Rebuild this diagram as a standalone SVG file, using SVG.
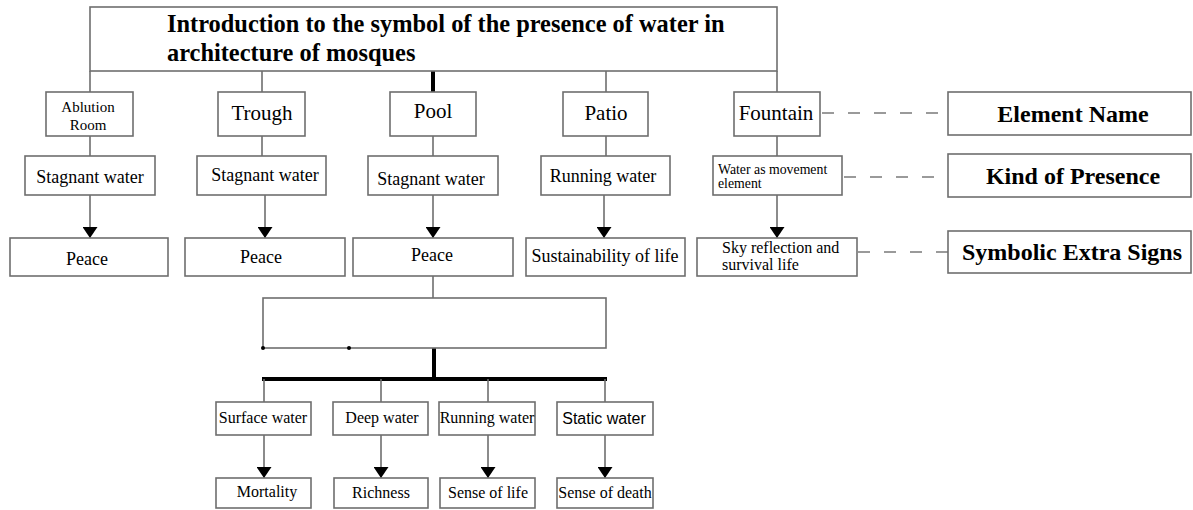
<svg xmlns="http://www.w3.org/2000/svg" width="1193" height="510" viewBox="0 0 1193 510">
<style>
.box{fill:#fff;stroke:#6e6e6e;stroke-width:1.6}
.ln{stroke:#6e6e6e;stroke-width:1.6;fill:none}
.thk{stroke:#000;stroke-width:4;fill:none}
.dash{stroke:#9a9a9a;stroke-width:2;stroke-dasharray:12,14;fill:none}
.t{font-family:"Liberation Serif","Times New Roman",serif;fill:#000}
.b{font-weight:bold}
.s{font-family:"Liberation Sans",Arial,sans-serif;fill:#000}
</style>
<defs>
<marker id="arr" markerUnits="userSpaceOnUse" markerWidth="11" markerHeight="15" refX="11" refY="7.5" orient="auto">
<path d="M0,0 L11,7.5 L0,15 Z" fill="#000"/>
</marker>
</defs>
<rect width="1193" height="510" fill="#fff"/>

<g id="connectors">
<line class="ln" x1="90" y1="71" x2="90" y2="92"/>
<line class="ln" x1="262" y1="71" x2="262" y2="92"/>
<line class="thk" x1="433" y1="69" x2="433" y2="92"/>
<line class="ln" x1="606" y1="71" x2="606" y2="92"/>
<line class="ln" x1="777" y1="71" x2="777" y2="92"/>
<line class="ln" x1="90" y1="136" x2="90" y2="156"/>
<line class="ln" x1="262" y1="136" x2="262" y2="156"/>
<line class="ln" x1="433" y1="136" x2="433" y2="156"/>
<line class="ln" x1="606" y1="136" x2="606" y2="156"/>
<line class="ln" x1="777" y1="136" x2="777" y2="156"/>
<line class="ln" x1="90" y1="195" x2="90" y2="238" marker-end="url(#arr)"/>
<line class="ln" x1="265" y1="195" x2="265" y2="238" marker-end="url(#arr)"/>
<line class="ln" x1="433" y1="195" x2="433" y2="238" marker-end="url(#arr)"/>
<line class="ln" x1="604" y1="195" x2="604" y2="238" marker-end="url(#arr)"/>
<line class="ln" x1="777" y1="195" x2="777" y2="238" marker-end="url(#arr)"/>
<line class="ln" x1="433" y1="276" x2="433" y2="298"/>
<line class="thk" x1="434" y1="348" x2="434" y2="379"/>
<line class="thk" x1="262" y1="379" x2="607" y2="379"/>
<line class="ln" x1="264" y1="379" x2="264" y2="402"/>
<line class="ln" x1="381" y1="379" x2="381" y2="402"/>
<line class="ln" x1="488" y1="379" x2="488" y2="402"/>
<line class="ln" x1="605" y1="379" x2="605" y2="402"/>
<line class="ln" x1="264" y1="435" x2="264" y2="478" marker-end="url(#arr)"/>
<line class="ln" x1="381" y1="435" x2="381" y2="478" marker-end="url(#arr)"/>
<line class="ln" x1="488" y1="435" x2="488" y2="478" marker-end="url(#arr)"/>
<line class="ln" x1="605" y1="435" x2="605" y2="478" marker-end="url(#arr)"/>
<line class="dash" x1="822" y1="113" x2="948" y2="113"/>
<line class="dash" x1="844" y1="177" x2="948" y2="177"/>
<line class="dash" x1="858" y1="252" x2="948" y2="252"/>
</g>

<g id="title">
<rect class="box" x="90" y="7" width="687" height="64"/>
<text class="t b" x="167" y="32" font-size="24.4">Introduction to the symbol of the presence of water in</text>
<text class="t b" x="167" y="61" font-size="24.4">architecture of mosques</text>
</g>

<g id="ablution">
<rect class="box" x="46" y="92" width="87" height="44"/>
<text class="t" x="88" y="112" font-size="15" text-anchor="middle">Ablution</text>
<text class="t" x="88" y="130" font-size="15" text-anchor="middle">Room</text>
</g>
<g id="trough">
<rect class="box" x="218" y="92" width="87" height="44"/>
<text class="t" x="262" y="120" font-size="21" text-anchor="middle">Trough</text>
</g>
<g id="pool">
<rect class="box" x="390" y="92" width="86" height="44"/>
<text class="t" x="433" y="118" font-size="21" text-anchor="middle">Pool</text>
</g>
<g id="patio">
<rect class="box" x="563" y="92" width="85" height="44"/>
<text class="t" x="606" y="120" font-size="21" text-anchor="middle">Patio</text>
</g>
<g id="fountain">
<rect class="box" x="734" y="92" width="86" height="44"/>
<text class="t" x="776" y="120" font-size="21" text-anchor="middle">Fountain</text>
</g>

<g id="kind1">
<rect class="box" x="25" y="156" width="130" height="39"/>
<text class="t" x="90" y="183" font-size="18" text-anchor="middle">Stagnant water</text>
</g>
<g id="kind2">
<rect class="box" x="197" y="156" width="129" height="39"/>
<text class="t" x="265" y="181" font-size="18" text-anchor="middle">Stagnant water</text>
</g>
<g id="kind3">
<rect class="box" x="368" y="156" width="130" height="39"/>
<text class="t" x="431" y="185" font-size="18" text-anchor="middle">Stagnant water</text>
</g>
<g id="kind4">
<rect class="box" x="541" y="156" width="129" height="39"/>
<text class="t" x="603" y="182" font-size="18" text-anchor="middle">Running water</text>
</g>
<g id="kind5">
<rect class="box" x="713" y="156" width="129" height="39"/>
<text class="t" x="718" y="174" font-size="13.8">Water as movement</text>
<text class="t" x="718" y="188" font-size="13.8">element</text>
</g>

<g id="sym1">
<rect class="box" x="10" y="238" width="158" height="38"/>
<text class="t" x="87" y="265" font-size="18" text-anchor="middle">Peace</text>
</g>
<g id="sym2">
<rect class="box" x="185" y="238" width="160" height="38"/>
<text class="t" x="261" y="263" font-size="18" text-anchor="middle">Peace</text>
</g>
<g id="sym3">
<rect class="box" x="353" y="238" width="160" height="38"/>
<text class="t" x="432" y="261" font-size="18" text-anchor="middle">Peace</text>
</g>
<g id="sym4">
<rect class="box" x="526" y="238" width="159" height="38"/>
<text class="t" x="605" y="262" font-size="18" text-anchor="middle">Sustainability of life</text>
</g>
<g id="sym5">
<rect class="box" x="697" y="238" width="160" height="38"/>
<text class="t" x="722" y="253" font-size="16">Sky reflection and</text>
<text class="t" x="722" y="270" font-size="16">survival life</text>
</g>

<g id="legend-element">
<rect class="box" x="948" y="92" width="243" height="43"/>
<text class="t b" x="1073" y="122" font-size="24" text-anchor="middle">Element Name</text>
</g>
<g id="legend-kind">
<rect class="box" x="948" y="154" width="243" height="43"/>
<text class="t b" x="1073" y="184" font-size="24" text-anchor="middle">Kind of Presence</text>
</g>
<g id="legend-symbolic">
<rect class="box" x="948" y="231" width="243" height="42"/>
<text class="t b" x="1072" y="260" font-size="24" text-anchor="middle">Symbolic Extra Signs</text>
</g>

<g id="pool-group">
<rect class="box" x="263" y="298" width="343" height="50"/>
<circle cx="263" cy="348" r="2" fill="#000"/>
<circle cx="349" cy="348" r="2" fill="#000"/>
</g>

<g id="surface">
<rect class="box" x="216" y="402" width="95" height="33"/>
<text class="t" x="263" y="423" font-size="16" text-anchor="middle">Surface water</text>
</g>
<g id="deep">
<rect class="box" x="333" y="402" width="95" height="33"/>
<text class="t" x="382" y="423" font-size="16" text-anchor="middle">Deep water</text>
</g>
<g id="running">
<rect class="box" x="439" y="402" width="96" height="33"/>
<text class="t" x="487" y="423" font-size="16" text-anchor="middle">Running water</text>
</g>
<g id="static">
<rect class="box" x="557" y="402" width="96" height="33"/>
<text class="s" x="604" y="424" font-size="16" text-anchor="middle">Static water</text>
</g>

<g id="mortality">
<rect class="box" x="216" y="478" width="95" height="30"/>
<text class="t" x="267" y="497" font-size="16" text-anchor="middle">Mortality</text>
</g>
<g id="richness">
<rect class="box" x="334" y="478" width="94" height="30"/>
<text class="t" x="381" y="498" font-size="16" text-anchor="middle">Richness</text>
</g>
<g id="senselife">
<rect class="box" x="440" y="478" width="95" height="30"/>
<text class="t" x="488" y="498" font-size="16" text-anchor="middle">Sense of life</text>
</g>
<g id="sensedeath">
<rect class="box" x="557" y="478" width="96" height="30"/>
<text class="t" x="605" y="498" font-size="16" text-anchor="middle">Sense of death</text>
</g>
</svg>
